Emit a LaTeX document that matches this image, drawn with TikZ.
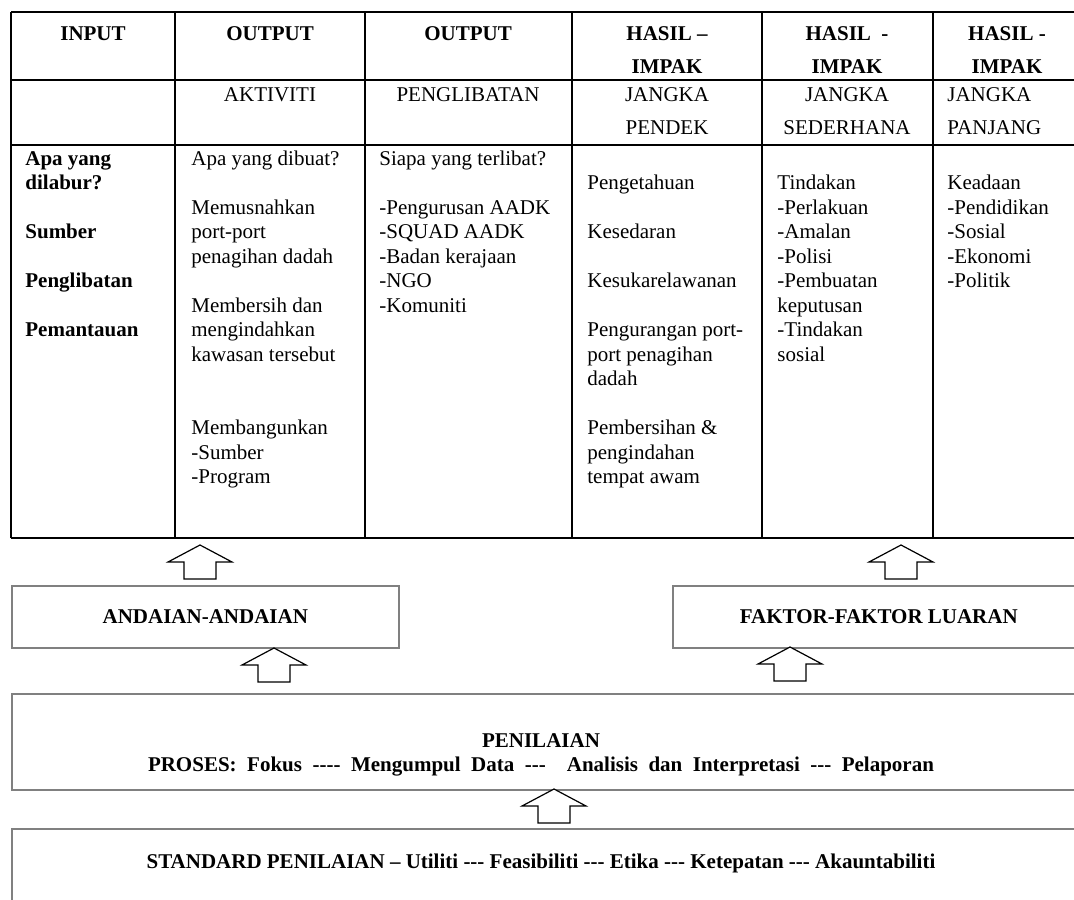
\documentclass[tikz,border=0pt]{standalone}
\usepackage{fontspec}
\setmainfont{Liberation Serif}
\newcommand{\tridash}{-\kern0pt-\kern0pt-}
\newcommand{\quadash}{-\kern0pt-\kern0pt-\kern0pt-}

\begin{document}
\begin{tikzpicture}[x=0.5pt, y=-0.5pt,
	grid/.style={line width=1.2pt},
	body/.style={anchor=north west, inner sep=0pt, align=left, font={\fontsize{10.5}{12.25}\selectfont}},
	bodyb/.style={body, font={\fontsize{10.5}{12.25}\selectfont\bfseries}},
	head/.style={anchor=north, inner sep=0pt, align=center, font={\fontsize{10.5}{16.5}\selectfont}},
	headb/.style={head, font={\fontsize{10.5}{16.5}\selectfont\bfseries}},
	lowbox/.style={draw=black!50, line width=0.8pt, anchor=north west, inner sep=0pt,
		font={\fontsize{10.5}{12.25}\selectfont\bfseries}},
	upblock/.pic={\draw[line width=0.6pt, fill=white] (0,0) -- (32,17) -- (16,17) -- (16,34)
		-- (-16,34) -- (-16,17) -- (-32,17) -- cycle;}]
	\useasboundingbox (0,0) rectangle (1074,899);
	\clip (0,0) rectangle (1074,899);

	\foreach \y in {12,80,145,538}
		\draw[grid] (11,\y) -- (1081,\y);
	\foreach \x in {11,175,365,572,762,933,1081}
		\draw[grid] (\x,12) -- (\x,538);

	\node[headb] (input) at (93,16.9) {\strut INPUT};
	\node[headb] (outputa) at (270,16.9) {\strut OUTPUT};
	\node[headb] (outputb) at (468,16.9) {\strut OUTPUT};
	\node[headb] (hasila) at (667,16.9) {\strut HASIL –\\IMPAK};
	\node[headb] (hasilb) at (847,16.9) {\strut HASIL\ \ -\\IMPAK};
	\node[headb] (hasilc) at (1007,16.9) {\strut HASIL -\\IMPAK};

	\node[head] (aktiviti) at (270,77.9) {\strut AKTIVITI};
	\node[head] (penglibatan) at (468,77.9) {\strut PENGLIBATAN};
	\node[head] (pendek) at (667,77.9) {\strut JANGKA\\PENDEK};
	\node[head] (sederhana) at (847,77.9) {\strut JANGKA\\SEDERHANA};
	\node[head, anchor=north west, align=left] (panjang) at (947,77.9) {\strut JANGKA\\PANJANG};

	\node[bodyb] (dilabur) at (25,147.85) {\strut Apa yang\\dilabur?\\[12.25pt]Sumber\\[12.25pt]Penglibatan\\[12.25pt]Pemantauan};
	\node[body] (dibuat) at (191,147.85) {\strut Apa yang dibuat?\\[12.25pt]Memusnahkan\\port-port\\penagihan dadah\\[12.25pt]Membersih dan\\mengindahkan\\kawasan tersebut\\[24.5pt]Membangunkan\\-Sumber\\-Program};
	\node[body] (terlibat) at (379,147.85) {\strut Siapa yang terlibat?\\[12.25pt]-Pengurusan AADK\\-SQUAD AADK\\-Badan kerajaan\\-NGO\\-Komuniti};
	\node[body] (pendekisi) at (587,172.35) {\strut Pengetahuan\\[12.25pt]Kesedaran\\[12.25pt]Kesukarelawanan\\[12.25pt]Pengurangan port-\\port penagihan\\dadah\\[12.25pt]Pembersihan \&\\pengindahan\\tempat awam};
	\node[body] (sederhanaisi) at (777,172.35) {\strut Tindakan\\-Perlakuan\\-Amalan\\-Polisi\\-Pembuatan\\keputusan\\-Tindakan\\sosial};
	\node[body] (panjangisi) at (947,172.35) {\strut Keadaan\\-Pendidikan\\-Sosial\\-Ekonomi\\-Politik};

	\node[lowbox, minimum width=193.5pt, minimum height=31pt] (andaian) at (11,585) {ANDAIAN-ANDAIAN};
	\node[lowbox, minimum width=206pt, minimum height=31pt] (faktor) at (672,585) {FAKTOR-FAKTOR LUARAN};
	\node[lowbox, minimum width=532.5pt, minimum height=48pt] (penilaian) at (11,693) {};
	\node[bodyb, anchor=north, align=center] (proses) at (541,729.85)
		{\strut PENILAIAN\\\makebox[393pt][s]{PROSES: Fokus \quadash{} Mengumpul Data \tridash{}\ \ Analisis dan Interpretasi \tridash{} Pelaporan}};
	\node[lowbox, minimum width=532.5pt, minimum height=50pt] (standard) at (11,828) {};
	\node[bodyb, anchor=base] (standardtext) at (541,868)
		{STANDARD PENILAIAN – Utiliti \tridash{} Feasibiliti \tridash{} Etika \tridash{} Ketepatan \tridash{} Akauntabiliti};

	\pic at (200,545) {upblock};
	\pic at (901,545) {upblock};
	\pic at (274,648) {upblock};
	\pic at (790,647) {upblock};
	\pic at (554,789) {upblock};
\end{tikzpicture}
\end{document}
